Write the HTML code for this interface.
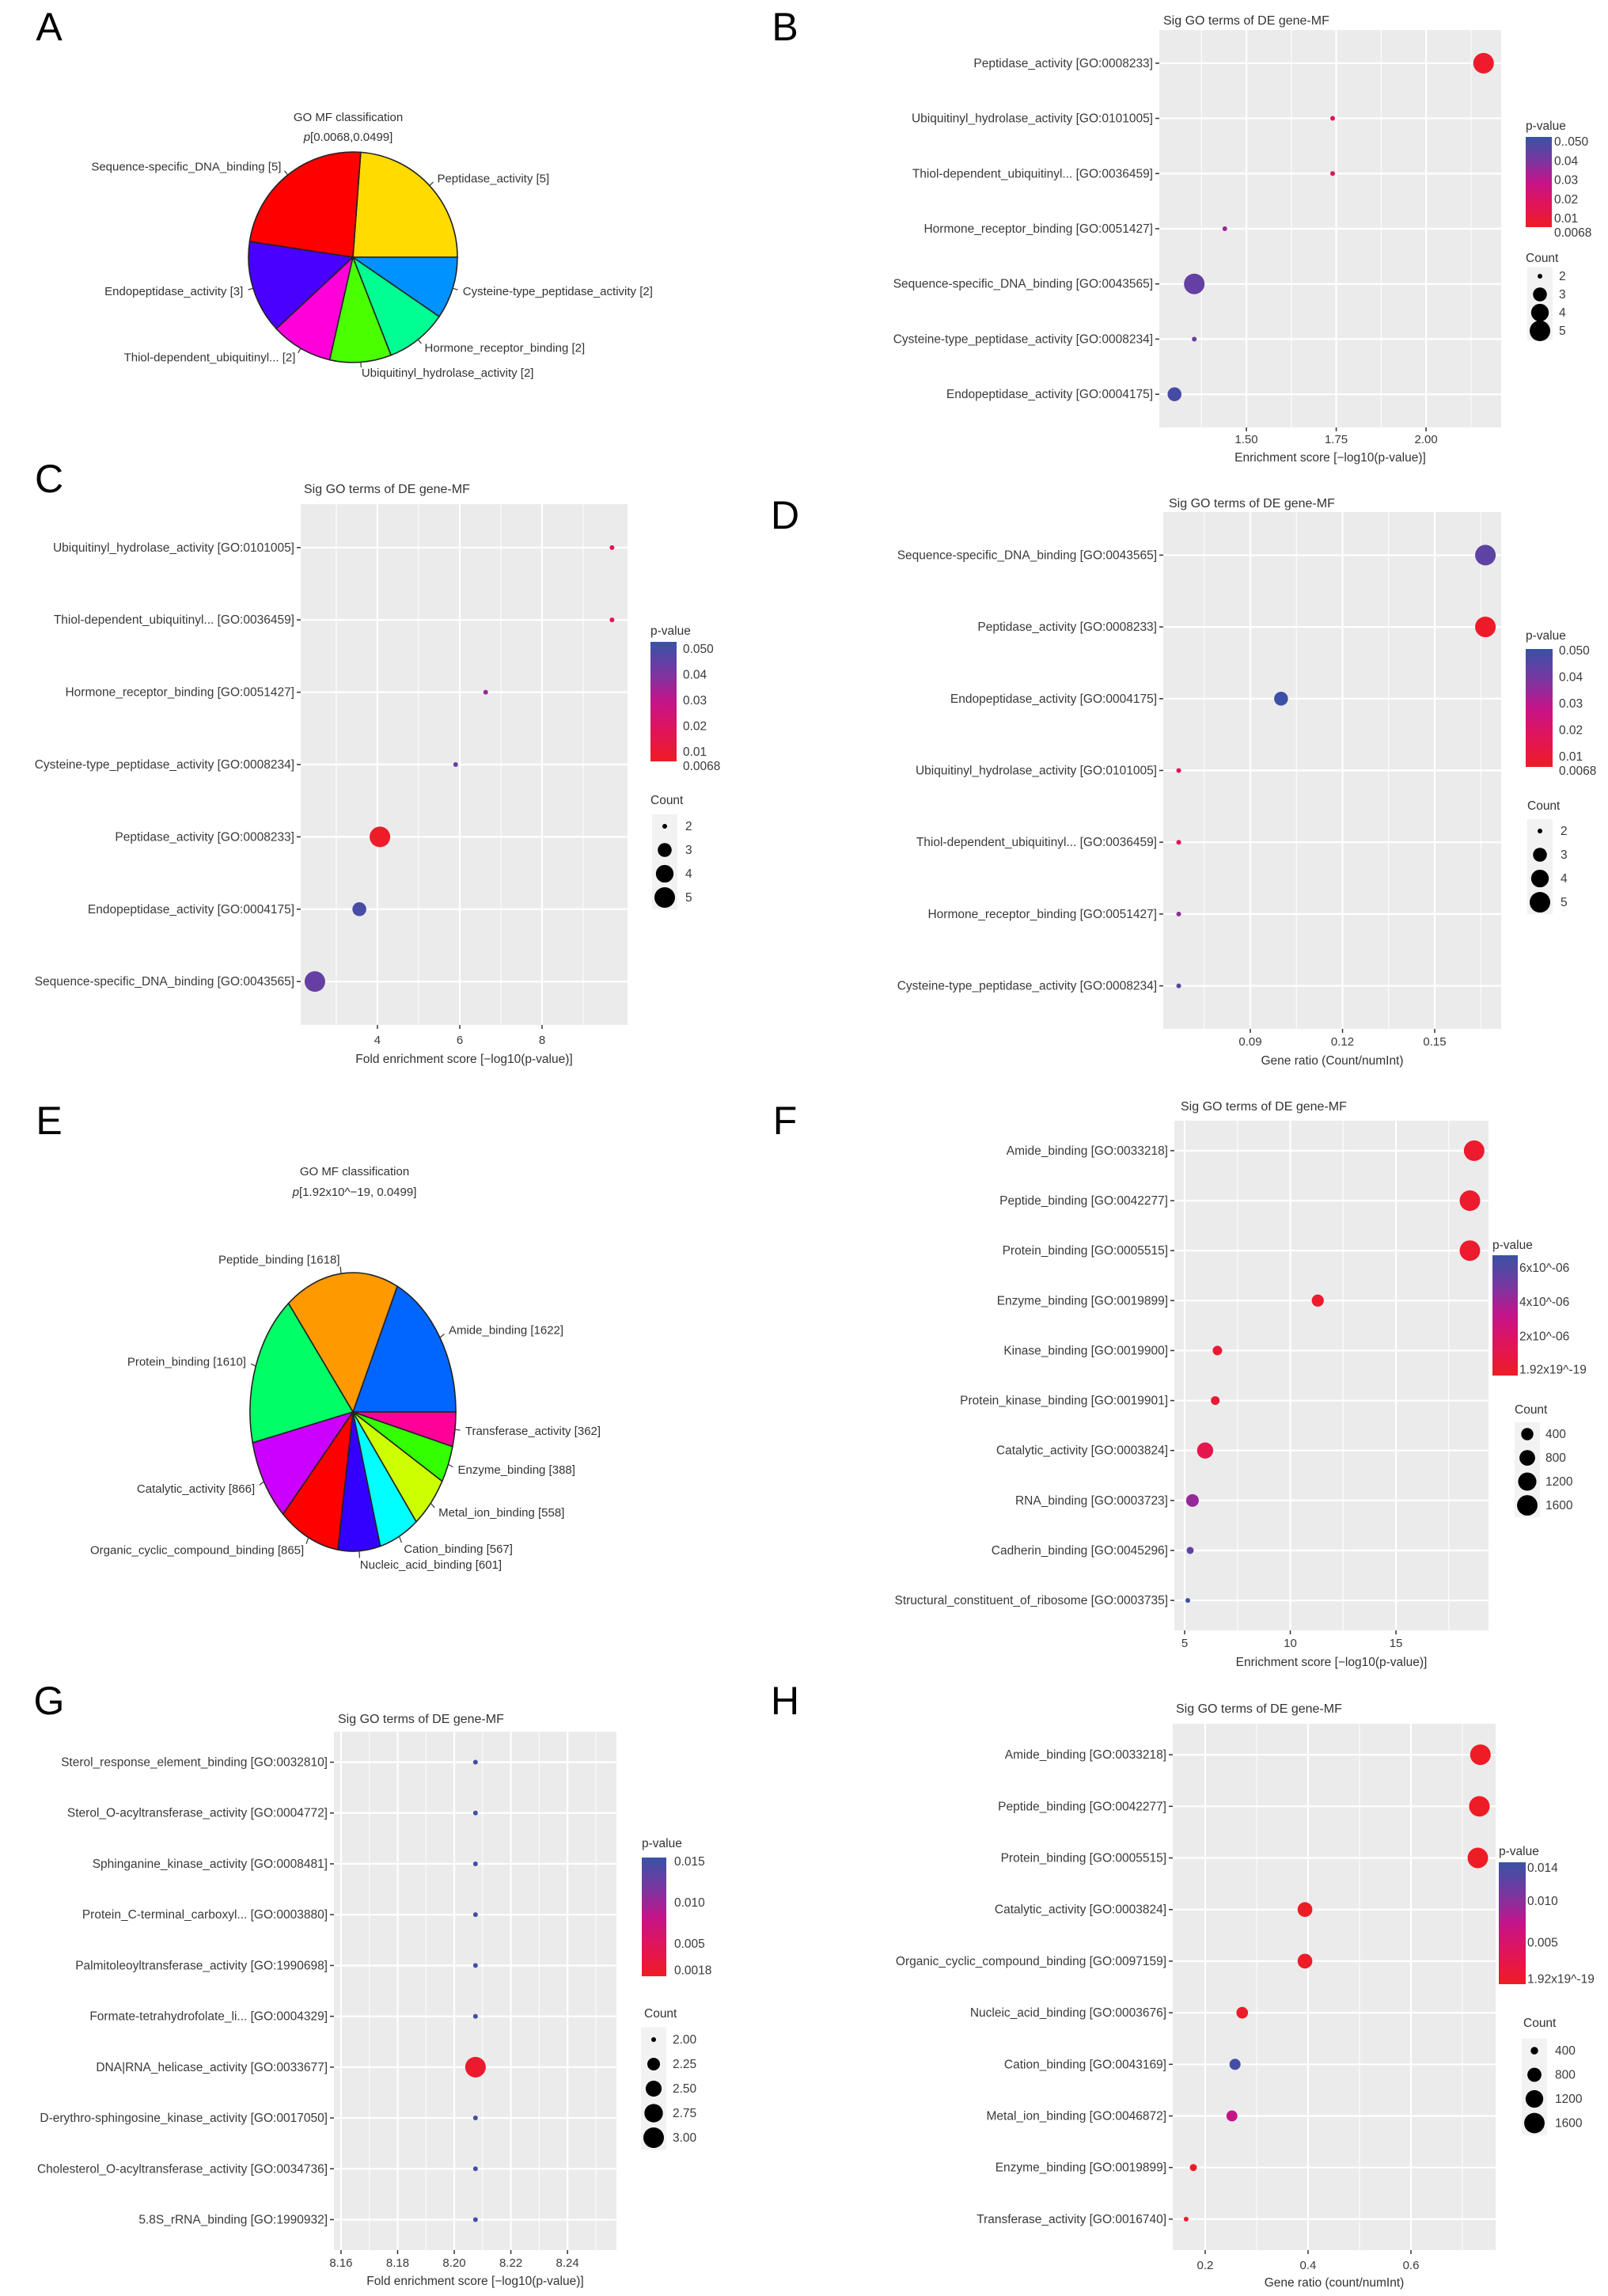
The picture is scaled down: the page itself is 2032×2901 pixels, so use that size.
<!DOCTYPE html>
<html><head><meta charset="utf-8">
<style>
html,body{margin:0;padding:0;background:#fff;}
svg{display:block;font-family:"Liberation Sans",Arial,sans-serif;}
</style></head>
<body>
<svg id="fig" xmlns="http://www.w3.org/2000/svg" width="2032" height="2901" viewBox="0 0 2032 2901">
<rect x="0" y="0" width="2032" height="2901" fill="#fff"/>
</svg>
<script>
// ---------- Panel A pie data ----------
const aLabels = ["Peptidase_activity [5]","Sequence-specific_DNA_binding [5]","Endopeptidase_activity [3]","Thiol-dependent_ubiquitinyl... [2]","Ubiquitinyl_hydrolase_activity [2]","Hormone_receptor_binding [2]","Cysteine-type_peptidase_activity [2]"];
const aCounts = [5,5,3,2,2,2,2];
const aColors = ["#FFDB00","#FF0000","#4900FF","#FF00DB","#49FF00","#00FF92","#0092FF"];
// ---------- Panel E pie data ----------
const eLabels = ["Amide_binding [1622]","Peptide_binding [1618]","Protein_binding [1610]","Catalytic_activity [866]","Organic_cyclic_compound_binding [865]","Nucleic_acid_binding [601]","Cation_binding [567]","Metal_ion_binding [558]","Enzyme_binding [388]","Transferase_activity [362]"];
const eCounts = [1622,1618,1610,866,865,601,567,558,388,362];
const eColors = ["#0066FF","#FF9900","#00FF66","#CC00FF","#FF0000","#3300FF","#00FFFF","#CCFF00","#33FF00","#FF0099"];
// ---------- Panel B ----------
const bTerms = ["Peptidase_activity [GO:0008233]","Ubiquitinyl_hydrolase_activity [GO:0101005]","Thiol-dependent_ubiquitinyl... [GO:0036459]","Hormone_receptor_binding [GO:0051427]","Sequence-specific_DNA_binding [GO:0043565]","Cysteine-type_peptidase_activity [GO:0008234]","Endopeptidase_activity [GO:0004175]"];
const bScore = [2.16,1.74,1.74,1.44,1.355,1.355,1.30];
const bCount = [5,2,2,2,5,2,3];
const bP = [0.0069,0.018,0.018,0.036,0.044,0.044,0.050];
const bTicks = [1.50,1.75,2.00];
const bTickLabels = ["1.50","1.75","2.00"];
// ---------- Panel C ----------
const cTerms = ["Ubiquitinyl_hydrolase_activity [GO:0101005]","Thiol-dependent_ubiquitinyl... [GO:0036459]","Hormone_receptor_binding [GO:0051427]","Cysteine-type_peptidase_activity [GO:0008234]","Peptidase_activity [GO:0008233]","Endopeptidase_activity [GO:0004175]","Sequence-specific_DNA_binding [GO:0043565]"];
const cScore = [9.7,9.7,6.63,5.9,4.06,3.56,2.48];
const cCount = [2,2,2,2,5,3,5];
const cP = [0.018,0.018,0.036,0.044,0.0069,0.050,0.044];
const cTicks = [4,6,8];
const cTickLabels = ["4","6","8"];
// ---------- Panel D ----------
const dTerms = ["Sequence-specific_DNA_binding [GO:0043565]","Peptidase_activity [GO:0008233]","Endopeptidase_activity [GO:0004175]","Ubiquitinyl_hydrolase_activity [GO:0101005]","Thiol-dependent_ubiquitinyl... [GO:0036459]","Hormone_receptor_binding [GO:0051427]","Cysteine-type_peptidase_activity [GO:0008234]"];
const dRatio = [0.1665,0.1665,0.100,0.0667,0.0667,0.0667,0.0667];
const dCount = [5,5,3,2,2,2,2];
const dP = [0.044,0.0069,0.050,0.018,0.018,0.036,0.044];
const dTicks = [0.09,0.12,0.15];
const dTickLabels = ["0.09","0.12","0.15"];
// ---------- Panel F ----------
const fTerms = ["Amide_binding [GO:0033218]","Peptide_binding [GO:0042277]","Protein_binding [GO:0005515]","Enzyme_binding [GO:0019899]","Kinase_binding [GO:0019900]","Protein_kinase_binding [GO:0019901]","Catalytic_activity [GO:0003824]","RNA_binding [GO:0003723]","Cadherin_binding [GO:0045296]","Structural_constituent_of_ribosome [GO:0003735]"];
const fScore = [18.7,18.5,18.5,11.3,6.55,6.45,5.97,5.37,5.26,5.15];
const fCount = [1622,1618,1610,388,191,148,866,443,85,50];
const fP = [1.92e-19,1.92e-19,1.92e-19,5e-12,2.8e-7,3.5e-7,1.1e-6,4.3e-6,5.5e-6,7e-6];
const fTicks = [5,10,15];
const fTickLabels = ["5","10","15"];
// ---------- Panel G ----------
const gTerms = ["Sterol_response_element_binding [GO:0032810]","Sterol_O-acyltransferase_activity [GO:0004772]","Sphinganine_kinase_activity [GO:0008481]","Protein_C-terminal_carboxyl... [GO:0003880]","Palmitoleoyltransferase_activity [GO:1990698]","Formate-tetrahydrofolate_li... [GO:0004329]","DNA|RNA_helicase_activity [GO:0033677]","D-erythro-sphingosine_kinase_activity [GO:0017050]","Cholesterol_O-acyltransferase_activity [GO:0034736]","5.8S_rRNA_binding [GO:1990932]"];
const gScore = [8.2075,8.2075,8.2075,8.2075,8.2075,8.2075,8.2075,8.2075,8.2075,8.2075];
const gCount = [2,2,2,2,2,2,3,2,2,2];
const gP = [0.015,0.015,0.015,0.015,0.015,0.015,0.0018,0.015,0.015,0.015];
const gTicks = [8.16,8.18,8.20,8.22,8.24];
const gTickLabels = ["8.16","8.18","8.20","8.22","8.24"];
// ---------- Panel H ----------
const hTerms = ["Amide_binding [GO:0033218]","Peptide_binding [GO:0042277]","Protein_binding [GO:0005515]","Catalytic_activity [GO:0003824]","Organic_cyclic_compound_binding [GO:0097159]","Nucleic_acid_binding [GO:0003676]","Cation_binding [GO:0043169]","Metal_ion_binding [GO:0046872]","Enzyme_binding [GO:0019899]","Transferase_activity [GO:0016740]"];
const hRatio = [0.735,0.733,0.730,0.394,0.394,0.272,0.258,0.252,0.177,0.163];
const hCount = [1622,1618,1610,866,865,601,567,558,388,362];
const hP = [1e-19,1e-19,1e-19,2e-5,2e-5,1e-4,0.014,0.007,5e-4,5e-4];
const hTicks = [0.2,0.4,0.6];
const hTickLabels = ["0.2","0.4","0.6"];

const NS = "http://www.w3.org/2000/svg";
const svg = document.getElementById("fig");
function mk(tag, attrs, parent, text) {
  const e = document.createElementNS(NS, tag);
  for (const k in attrs) e.setAttribute(k, attrs[k]);
  if (text !== undefined) e.textContent = text;
  (parent || svg).appendChild(e);
  return e;
}
const stops = [[0,[238,28,37]],[0.25,[226,20,88]],[0.5,[196,20,138]],[0.75,[118,56,162]],[1,[57,82,165]]];
function gradColor(t) {
  t = Math.max(0, Math.min(1, t));
  for (let i = 1; i < stops.length; i++) {
    if (t <= stops[i][0]) {
      const a = stops[i-1], b = stops[i];
      const u = (t - a[0]) / (b[0] - a[0]);
      const c = a[1].map((v, k) => Math.round(v + (b[1][k] - v) * u));
      return "rgb(" + c.join(",") + ")";
    }
  }
  return "rgb(57,82,165)";
}

// ---------- panel letters ----------
const letters = [["A",62,33],["B",992,33],["C",62,604],["D",992,650],["E",62,1415],["F",992,1415],["G",62,2148],["H",992,2148]];
letters.forEach(l => {
  const t = mk("text", {x: l[1], y: l[2] + 18, "font-size": 50, "text-anchor": "middle", fill: "#000"}, svg, l[0]);
  
  
});

// ---------- pie ----------
function pie(name, cx, cy, rx, ry, counts, colors, labels, title1, title2, tx, ty1, ty2) {
  const g = mk("g", {});
  
  
  const total = counts.reduce((a, b) => a + b, 0);
  let ang = 0;
  counts.forEach((c, i) => {
    const a0 = ang, a1 = ang + c / total * 2 * Math.PI;
    ang = a1;
    const x0 = cx + rx * Math.cos(a0), y0 = cy - ry * Math.sin(a0);
    const x1 = cx + rx * Math.cos(a1), y1 = cy - ry * Math.sin(a1);
    const large = (a1 - a0) > Math.PI ? 1 : 0;
    const p = mk("path", {d: `M${cx},${cy} L${x0},${y0} A${rx},${ry} 0 ${large} 0 ${x1},${y1} Z`, fill: colors[i], stroke: "#222", "stroke-width": 1.6}, g);
    
    
    const am = (a0 + a1) / 2, cs = Math.cos(am), sn = Math.sin(am);
    mk("line", {x1: cx + rx * cs, y1: cy - ry * sn, x2: cx + 1.05 * rx * cs, y2: cy - 1.05 * ry * sn, stroke: "#333", "stroke-width": 1.2}, g);
    const lt = mk("text", {x: cx + 1.1 * rx * cs, y: cy - 1.1 * ry * sn + 5, "font-size": 15, fill: "#333", "text-anchor": cs > 0 ? "start" : "end"}, g, labels[i]);
    
    
  });
  const t1 = mk("text", {x: tx, y: ty1 + 5, "font-size": 15, fill: "#333", "text-anchor": "middle"}, g, title1);
  
  
  const t2 = mk("text", {x: tx, y: ty2 + 5, "font-size": 15, fill: "#333", "text-anchor": "middle"}, g);
  
  
  mk("tspan", {"font-style": "italic"}, t2, "p");
  mk("tspan", {}, t2, title2);
}
pie("pie-a", 446, 325, 132, 133, aCounts, aColors, aLabels, "GO MF classification", "[0.0068,0.0499]", 440, 148, 173);
pie("pie-e", 446, 1784, 130, 176, eCounts, eColors, eLabels, "GO MF classification", "[1.92x10^\u221219, 0.0499]", 448, 1480, 1506);

// ---------- dot plot ----------
function dotPanel(cfg) {
  const g = mk("g", {});
  
  
  const [X0, X1, Y0, Y1] = cfg.rect;
  const xs = v => X0 + (v - cfg.xdom[0]) / (cfg.xdom[1] - cfg.xdom[0]) * (X1 - X0);
  const n = cfg.terms.length;
  const step = (Y1 - Y0) / (n - 1 + 1.2);
  const ys = i => Y0 + (0.6 + i) * step;
  const bg = mk("rect", {x: X0, y: Y0, width: X1 - X0, height: Y1 - Y0, fill: "#EBEBEB"}, g);
  
  
  cfg.minor.forEach(v => {
    const x = xs(v);
    if (x > X0 && x < X1) mk("line", {x1: x, x2: x, y1: Y0, y2: Y1, stroke: "#fff", "stroke-width": 1}, g);
  });
  cfg.ticks.forEach(v => mk("line", {x1: xs(v), x2: xs(v), y1: Y0, y2: Y1, stroke: "#fff", "stroke-width": 2.2}, g));
  cfg.terms.forEach((t, i) => mk("line", {x1: X0, x2: X1, y1: ys(i), y2: ys(i), stroke: "#fff", "stroke-width": 2.2}, g));
  const cmin = Math.min(...cfg.counts), cmax = Math.max(...cfg.counts);
  const rs = c => 3 + 10 * Math.sqrt(Math.max(0, (c - cmin) / (cmax - cmin)));
  const L = cfg.legend;
  const pc = p => gradColor((p - L.plo) / (L.phi - L.plo));
  cfg.terms.forEach((t, i) => {
    mk("line", {x1: X0 - 5, x2: X0, y1: ys(i), y2: ys(i), stroke: "#333", "stroke-width": 1.5}, g);
    const tl = mk("text", {x: X0 - 8, y: ys(i) + 5, "font-size": 15.5, fill: "#3a3a3a", "text-anchor": "end"}, g, t);
    
    
    const c = mk("circle", {cx: xs(cfg.xv[i]), cy: ys(i), r: rs(cfg.counts[i]), fill: pc(cfg.p[i])}, g);
    
    
  });
  cfg.ticks.forEach((v, i) => {
    mk("line", {x1: xs(v), x2: xs(v), y1: Y1, y2: Y1 + 5, stroke: "#333", "stroke-width": 1.5}, g);
    const tl = mk("text", {x: xs(v), y: cfg.tickY + 6, "font-size": 15, fill: "#3a3a3a", "text-anchor": "middle"}, g, cfg.tickLabels[i]);
    
    
  });
  const tt = mk("text", {x: cfg.titleX, y: cfg.titleY + 6, "font-size": 16, fill: "#333"}, g, "Sig GO terms of DE gene-MF");
  
  
  const xt = mk("text", {x: (X0 + X1) / 2, y: cfg.xtitleY + 6, "font-size": 15.5, fill: "#333", "text-anchor": "middle"}, g, cfg.xtitle);
  
  
  // colour legend
  const lg = mk("g", {}, g);
  
  
  const pt = mk("text", {x: L.barX, y: L.pTitleY + 6, "font-size": 15.5, fill: "#333"}, lg, "p-value");
  
  
  const gid = cfg.name + "-grad";
  const defs = mk("defs", {}, lg);
  const lin = mk("linearGradient", {id: gid, x1: 0, y1: 1, x2: 0, y2: 0}, defs);
  for (let k = 0; k <= 10; k++) mk("stop", {offset: k / 10, "stop-color": gradColor(k / 10)}, lin);
  mk("rect", {x: L.barX, y: L.barY0, width: L.barW, height: L.barY1 - L.barY0, fill: `url(#${gid})`}, lg);
  const by = p => L.barY1 - (p - L.plo) / (L.phi - L.plo) * (L.barY1 - L.barY0);
  let prev = -1e9;
  L.pTicks.forEach((p, i) => {
    let y = by(p);
    if (y - prev < 18) y = prev + 18;
    prev = y;
    const t = mk("text", {x: L.barX + L.barW + L.labGap, y: y + 5, "font-size": 15.5, fill: "#3a3a3a"}, lg, L.pLabels[i]);
    
    
  });
  // size legend
  const sg = mk("g", {}, g);
  
  
  const ct = mk("text", {x: L.cntTitleX, y: L.cntTitleY + 6, "font-size": 15.5, fill: "#333"}, sg, "Count");
  
  
  L.cntVals.forEach((v, i) => {
    const y = L.cntY0 + i * L.cntStep;
    mk("rect", {x: L.circX - 16, y: y - L.cntStep / 2, width: 32, height: L.cntStep, fill: "#F2F2F2"}, sg);
    const c = mk("circle", {cx: L.circX, cy: y, r: rs(v), fill: "#000"}, sg);
    
    
    const t = mk("text", {x: L.labX, y: y + 5, "font-size": 15.5, fill: "#3a3a3a"}, sg, L.cntLabels[i]);
    
    
  });
}

const p5 = {pTicks: [0.05,0.04,0.03,0.02,0.01,0.0068], pLabels: ["0.050","0.04","0.03","0.02","0.01","0.0068"]};
dotPanel({name: "dotplot-b", terms: bTerms, xv: bScore, counts: bCount, p: bP, rect: [1465,1897,38,540], xdom: [1.2577,2.209],
  ticks: bTicks, tickLabels: bTickLabels, minor: [1.375,1.625,1.875,2.125], tickY: 554, titleX: 1470, titleY: 25,
  xtitle: "Enrichment score [\u2212log10(p-value)]", xtitleY: 577,
  legend: {barX: 1928, barW: 33, barY0: 173, barY1: 287, plo: 0.0055, phi: 0.0525, labGap: 3, pTitleY: 158, ...p5, pLabels: ["0..050","0.04","0.03","0.02","0.01","0.0068"],
    cntTitleX: 1928, cntTitleY: 325, cntY0: 349, cntStep: 23, cntVals: [2,3,4,5], cntLabels: ["2","3","4","5"], circX: 1946, labX: 1970}});
dotPanel({name: "dotplot-c", terms: cTerms, xv: cScore, counts: cCount, p: cP, rect: [380,793,637,1295], xdom: [2.135,10.077],
  ticks: cTicks, tickLabels: cTickLabels, minor: [3,5,7,9], tickY: 1313, titleX: 384, titleY: 617,
  xtitle: "Fold enrichment score [\u2212log10(p-value)]", xtitleY: 1337,
  legend: {barX: 822, barW: 33, barY0: 811, barY1: 962, plo: 0.0063, phi: 0.0528, labGap: 8, pTitleY: 796, ...p5,
    cntTitleX: 822, cntTitleY: 1010, cntY0: 1044, cntStep: 30, cntVals: [2,3,4,5], cntLabels: ["2","3","4","5"], circX: 840, labX: 866}});
dotPanel({name: "dotplot-d", terms: dTerms, xv: dRatio, counts: dCount, p: dP, rect: [1470,1897,647,1300], xdom: [0.06167,0.17163],
  ticks: dTicks, tickLabels: dTickLabels, minor: [0.075,0.105,0.135,0.165], tickY: 1315, titleX: 1477, titleY: 635,
  xtitle: "Gene ratio (Count/numInt)", xtitleY: 1339,
  legend: {barX: 1928, barW: 34, barY0: 820, barY1: 969, plo: 0.0061, phi: 0.0506, labGap: 8, pTitleY: 802, ...p5,
    cntTitleX: 1930, cntTitleY: 1017, cntY0: 1050, cntStep: 30, cntVals: [2,3,4,5], cntLabels: ["2","3","4","5"], circX: 1946, labX: 1972}});
dotPanel({name: "dotplot-f", terms: fTerms, xv: fScore, counts: fCount, p: fP, rect: [1484,1881,1416,2060], xdom: [4.513,19.38],
  ticks: fTicks, tickLabels: fTickLabels, minor: [7.5,12.5,17.5], tickY: 2075, titleX: 1492, titleY: 1397,
  xtitle: "Enrichment score [\u2212log10(p-value)]", xtitleY: 2099,
  legend: {barX: 1886, barW: 32, barY0: 1586, barY1: 1738, plo: -0.3e-6, phi: 6.74e-6, labGap: 2, pTitleY: 1572,
    pTicks: [6e-6,4e-6,2e-6,0.04e-6], pLabels: ["6x10^-06","4x10^-06","2x10^-06","1.92x19^-19"],
    cntTitleX: 1914, cntTitleY: 1780, cntY0: 1812, cntStep: 30, cntVals: [400,800,1200,1600], cntLabels: ["400","800","1200","1600"], circX: 1930, labX: 1953}});
dotPanel({name: "dotplot-g", terms: gTerms, xv: gScore, counts: gCount, p: gP, rect: [422,779,2188,2843], xdom: [8.1575,8.2573],
  ticks: gTicks, tickLabels: gTickLabels, minor: [8.17,8.19,8.21,8.23,8.25], tickY: 2858, titleX: 427, titleY: 2171,
  xtitle: "Fold enrichment score [\u2212log10(p-value)]", xtitleY: 2881,
  legend: {barX: 811, barW: 31, barY0: 2347, barY1: 2497, plo: 0.00106, phi: 0.01548, labGap: 10, pTitleY: 2328,
    pTicks: [0.015,0.010,0.005,0.0018], pLabels: ["0.015","0.010","0.005","0.0018"],
    cntTitleX: 814, cntTitleY: 2543, cntY0: 2577, cntStep: 31, cntVals: [2,2.25,2.5,2.75,3], cntLabels: ["2.00","2.25","2.50","2.75","3.00"], circX: 826, labX: 850}});
dotPanel({name: "dotplot-h", terms: hTerms, xv: hRatio, counts: hCount, p: hP, rect: [1482,1890,2178,2843], xdom: [0.137,0.7646],
  ticks: hTicks, tickLabels: hTickLabels, minor: [0.3,0.5,0.7], tickY: 2861, titleX: 1486, titleY: 2158,
  xtitle: "Gene ratio (count/numInt)", xtitleY: 2883,
  legend: {barX: 1894, barW: 34, barY0: 2353, barY1: 2507, plo: 0, phi: 0.01466, labGap: 2, pTitleY: 2338,
    pTicks: [0.014,0.010,0.005,0.0006], pLabels: ["0.014","0.010","0.005","1.92x19^-19"],
    cntTitleX: 1925, cntTitleY: 2555, cntY0: 2591, cntStep: 30.5, cntVals: [400,800,1200,1600], cntLabels: ["400","800","1200","1600"], circX: 1939, labX: 1965}});
</script>
</body></html>
